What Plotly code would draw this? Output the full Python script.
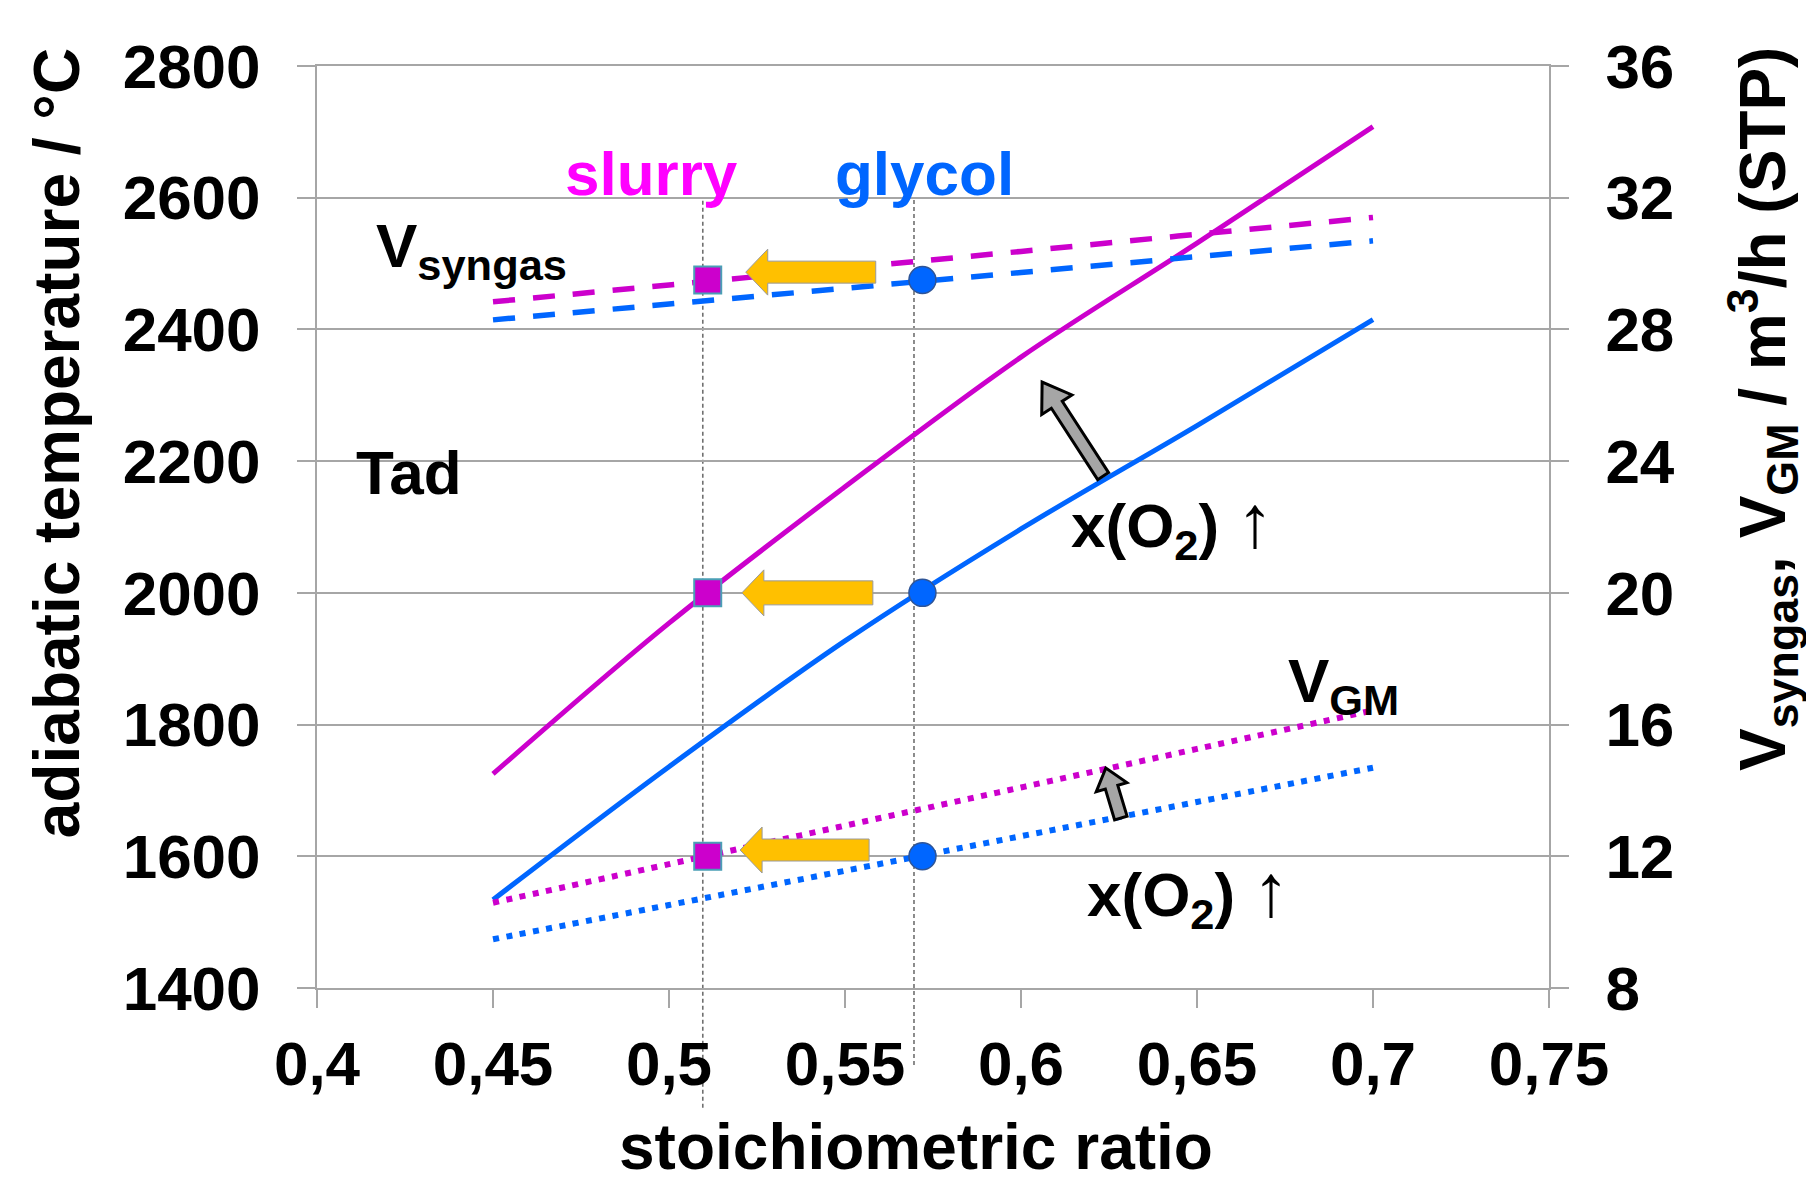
import math
import plotly.graph_objects as go

# ---------------- data ----------------
ratio = [0.45, 0.50, 0.55, 0.60, 0.65, 0.70]
tad_slurry = [1725, 1954, 2161, 2358, 2531, 2708]
tad_glycol = [1534, 1736, 1927, 2097, 2254, 2415]
vsyn_slurry = [28.84, 29.35, 29.86, 30.37, 30.89, 31.40]
vsyn_glycol = [28.29, 28.77, 29.25, 29.73, 30.21, 30.69]
vgm_slurry = [10.59, 11.76, 12.93, 14.09, 15.26, 16.43]
vgm_glycol = [9.48, 10.52, 11.56, 12.61, 13.65, 14.69]

op_ratio_slurry = 0.511
op_ratio_glycol = 0.572
op_tad = 2000
op_vsyn = 29.5
op_vgm = 12.0
guide_x = [0.5096, 0.5696]

x_tickvals = [0.40, 0.45, 0.50, 0.55, 0.60, 0.65, 0.70, 0.75]
x_ticktext = ["0,4", "0,45", "0,5", "0,55", "0,6", "0,65", "0,7", "0,75"]
y_tickvals = [1400, 1600, 1800, 2000, 2200, 2400, 2600, 2800]
y2_tickvals = [8, 12, 16, 20, 24, 28, 32, 36]

# ---------------- style ----------------
MAG = "#CC00CC"
BLUE = "#0066FF"
GRID = "#A6A6A6"
FONT = "Liberation Sans, Arial, sans-serif"
FS = 62
FS_TITLE = 64

fig = go.Figure()

def add_line(y, color, dash, width, axis):
    fig.add_trace(go.Scatter(x=ratio, y=y, mode="lines", yaxis=axis,
                             line=dict(color=color, dash=dash, width=width,
                                       shape="spline", smoothing=1),
                             showlegend=False, hoverinfo="skip"))

add_line(tad_slurry, MAG, "solid", 5, "y")
add_line(tad_glycol, BLUE, "solid", 5, "y")
add_line(vsyn_slurry, MAG, "22px,18px", 5.5, "y2")
add_line(vsyn_glycol, BLUE, "22px,18px", 5.5, "y2")
add_line(vgm_slurry, MAG, "6px,7.5px", 6, "y2")
add_line(vgm_glycol, BLUE, "6px,7.5px", 6, "y2")

# operating points
for yv, ax in [(op_tad, "y"), (op_vsyn, "y2"), (op_vgm, "y2")]:
    fig.add_trace(go.Scatter(x=[op_ratio_slurry], y=[yv], mode="markers", yaxis=ax,
                             marker=dict(symbol="square", size=27, color=MAG,
                                         line=dict(color="#4A9FB5", width=2)),
                             showlegend=False, hoverinfo="skip"))
    fig.add_trace(go.Scatter(x=[op_ratio_glycol], y=[yv], mode="markers", yaxis=ax,
                             marker=dict(symbol="circle", size=27, color=BLUE,
                                         line=dict(color="#2F5597", width=1.5)),
                             showlegend=False, hoverinfo="skip"))

shapes = []
# guide lines
for gx, ybot in zip(guide_x, [-0.130, -0.0835]):
    shapes.append(dict(type="line", xref="x", yref="paper", x0=gx, x1=gx, y0=ybot, y1=0.855,
                       line=dict(color="#707070", width=1.6, dash="4px,3px"), layer="below"))


def arrow_path(dx, dy, bw, hw, hl):
    L = math.hypot(dx, dy)
    ux, uy = -dx / L, -dy / L
    nx, ny = -uy, ux
    bx, by = ux * -hl, uy * -hl
    pts = [(0, 0),
           (bx + nx * hw / 2, by + ny * hw / 2),
           (bx + nx * bw / 2, by + ny * bw / 2),
           (dx + nx * bw / 2, dy + ny * bw / 2),
           (dx - nx * bw / 2, dy - ny * bw / 2),
           (bx - nx * bw / 2, by - ny * bw / 2),
           (bx - nx * hw / 2, by - ny * hw / 2)]
    return "M " + " L ".join(f"{p[0]:.2f},{p[1]:.2f}" for p in pts) + " Z"


def arrow_shape(xa, ya, yref, dx, dy, bw, hw, hl, fill, lc, lw):
    return dict(type="path", xref="x", yref=yref, xsizemode="pixel", ysizemode="pixel",
                xanchor=xa, yanchor=ya, path=arrow_path(dx, dy, bw, hw, hl),
                fillcolor=fill, line=dict(color=lc, width=lw), layer="above")

# orange shift arrows (glycol -> slurry)
shapes.append(arrow_shape(0.5207, 2000, "y", 131, 0, 24, 46, 22, "#FFC000", "#9A9A9A", 1))
shapes.append(arrow_shape(0.5218, 29.74, "y2", 130, 0, 22, 46, 22, "#FFC000", "#9A9A9A", 1))
shapes.append(arrow_shape(0.5202, 12.19, "y2", 129, 0, 22, 46, 22, "#FFC000", "#9A9A9A", 1))
# grey x(O2) arrows
shapes.append(arrow_shape(0.6060, 2320, "y", 61, -94, 13, 36, 27, "#A6A6A6", "black", 3))
shapes.append(arrow_shape(0.6241, 1734, "y", 15, -50, 13, 32, 20, "#A6A6A6", "black", 3))

ann_font = dict(family=FONT, size=FS, color="black", weight="bold")
title_font = dict(family=FONT, size=FS_TITLE, color="black", weight="bold")
arrow_up = "<span style='font-weight:normal;font-size:74px'>↑</span>"
annotations = [
    dict(x=0.4949, y=2637, xref="x", yref="y", text="slurry", showarrow=False,
         xanchor="center", yanchor="middle",
         font=dict(family=FONT, size=FS, color="#FF00FF", weight="bold")),
    dict(x=0.5727, y=2637, xref="x", yref="y", text="glycol", showarrow=False,
         xanchor="center", yanchor="middle",
         font=dict(family=FONT, size=FS, color=BLUE, weight="bold")),
    dict(x=0.4162, y=2520, xref="x", yref="y", xanchor="left", yanchor="middle",
         text="V<sub>syngas</sub>", showarrow=False, font=ann_font),
    dict(x=0.4261, y=2183, xref="x", yref="y", text="Tad", showarrow=False,
         xanchor="center", yanchor="middle", font=ann_font),
    dict(x=0.6429, y=2104, xref="x", yref="y", text="x(O<sub>2</sub>) " + arrow_up,
         showarrow=False, xanchor="center", yanchor="middle", font=ann_font),
    dict(x=0.6474, y=1544, xref="x", yref="y", text="x(O<sub>2</sub>) " + arrow_up,
         showarrow=False, xanchor="center", yanchor="middle", font=ann_font),
    dict(x=0.6915, y=1860, xref="x", yref="y", text="V<sub>GM</sub>", showarrow=False,
         xanchor="center", yanchor="middle", font=ann_font),
    dict(x=-0.2110, y=0.591, xref="paper", yref="paper", text="adiabatic temperature / °C",
         textangle=-90, showarrow=False, xanchor="center", yanchor="middle", font=title_font),
    dict(x=1.1729, y=0.628, xref="paper", yref="paper",
         text="V<sub>syngas</sub>, V<sub>GM</sub> / m<sup>3</sup>/h (STP)",
         textangle=-90, showarrow=False, xanchor="center", yanchor="middle", font=title_font),
    dict(x=0.486, y=-0.172, xref="paper", yref="paper", text="stoichiometric ratio",
         showarrow=False, xanchor="center", yanchor="middle", font=title_font),
]

tickfont = dict(family=FONT, size=FS, color="black", weight="bold")
fig.update_layout(
    width=1806, height=1185,
    margin=dict(l=317, r=257, t=66, b=197, autoexpand=False),
    paper_bgcolor="white", plot_bgcolor="rgba(0,0,0,0)",
    font=dict(family=FONT, color="black"),
    xaxis=dict(range=[0.4, 0.75], tickvals=x_tickvals, ticktext=x_ticktext,
               showgrid=False, zeroline=False, showline=True, linecolor=GRID, linewidth=2,
               ticks="outside", ticklen=18, tickwidth=2, tickcolor=GRID,
               tickfont=tickfont, mirror=True, ticklabelstandoff=3),
    yaxis=dict(range=[1400, 2800], tickvals=y_tickvals, showgrid=True, gridcolor=GRID,
               gridwidth=2, zeroline=False, showline=True, linecolor=GRID, linewidth=2,
               ticks="outside", ticklen=18, tickwidth=2, tickcolor=GRID,
               tickfont=tickfont, ticklabelstandoff=24),
    yaxis2=dict(range=[8, 36], tickvals=y2_tickvals, overlaying="y", side="right",
                showgrid=False, zeroline=False, showline=True, linecolor=GRID, linewidth=2,
                ticks="outside", ticklen=18, tickwidth=2, tickcolor=GRID,
                tickfont=tickfont, ticklabelstandoff=24),
    shapes=shapes,
    annotations=annotations,
    showlegend=False,
)

fig.write_html("out.html")
